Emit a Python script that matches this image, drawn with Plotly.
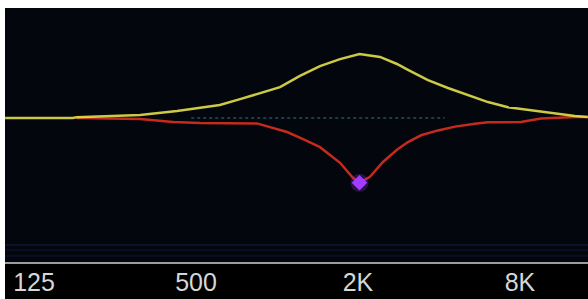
import plotly.graph_objects as go

# Boost (yellow) EQ curve
boost_freq = [97.6, 174, 180, 310, 425, 518, 613, 729, 865, 1026, 1217, 1445, 1715, 2026,
              2415, 2792, 3068, 3641, 4320, 5127, 6084, 7220, 8567, 10166, 12809, 14300]
boost_gain = [0.0, 0.0, 0.15, 0.55, 1.3, 1.85, 2.4, 3.5, 4.6, 5.7, 7.8, 9.6, 10.9, 11.85,
              11.3, 10.0, 8.9, 7.0, 5.55, 4.25, 2.95, 2.0, 1.5, 0.9, 0.35, 0.2]

# Cut (red) EQ curve
cut_freq = [180, 310, 411, 518, 842, 918, 1000, 1090, 1250, 1445, 1715, 1915, 2026,
            2216, 2477, 2792, 3068, 3430, 3966, 4588, 5444, 6084, 8068, 9574, 12809, 14300]
cut_gain = [0.0, -0.2, -0.75, -0.95, -1.0, -1.5, -2.0, -2.6, -3.9, -5.4, -8.3, -11.1, -12.0,
            -10.9, -8.15, -5.9, -4.45, -3.2, -2.3, -1.6, -1.05, -0.8, -0.75, -0.1, 0.2, 0.2]

# Selected band handle
handle_freq = [2026]
handle_gain = [-12.0]

# Zero reference line
zero_freq = [480, 4200]
zero_gain = [0.0, 0.0]

tick_vals = [125, 500, 2000, 8000]
tick_text = ["125", "500", "2K", "8K"]

fig = go.Figure()

fig.add_trace(go.Scatter(x=zero_freq, y=zero_gain, mode="lines",
                         line=dict(color="rgba(60,150,160,0.55)", width=1.5, dash="dot"),
                         hoverinfo="skip"))
fig.add_trace(go.Scatter(x=cut_freq, y=cut_gain, mode="lines",
                         line=dict(color="#c42a1e", width=2.5)))
fig.add_trace(go.Scatter(x=boost_freq, y=boost_gain, mode="lines",
                         line=dict(color="rgba(240,236,80,0.85)", width=2.5)))
fig.add_trace(go.Scatter(x=handle_freq, y=handle_gain, mode="markers",
                         marker=dict(symbol="circle", size=18, color="rgba(150,60,255,0.25)",
                                     line=dict(width=0))))
fig.add_trace(go.Scatter(x=handle_freq, y=handle_gain, mode="markers",
                         marker=dict(symbol="diamond", size=12, color="#a23cff",
                                     line=dict(width=0))))

shapes = [
    # black label strip
    dict(type="rect", xref="paper", yref="paper", x0=0, x1=1, y0=-37 / 254, y1=0,
         fillcolor="#000000", line=dict(width=0), layer="below"),
    # faint blue lines near bottom
    dict(type="line", xref="paper", yref="paper", x0=0, x1=1, y0=17 / 254, y1=17 / 254,
         line=dict(color="rgba(40,45,120,0.55)", width=1)),
    dict(type="line", xref="paper", yref="paper", x0=0, x1=1, y0=12 / 254, y1=12 / 254,
         line=dict(color="rgba(40,45,110,0.4)", width=1)),
    dict(type="line", xref="paper", yref="paper", x0=0, x1=1, y0=6 / 254, y1=6 / 254,
         line=dict(color="rgba(40,45,110,0.35)", width=1)),
    # gray baseline
    dict(type="line", xref="paper", yref="paper", x0=0, x1=1, y0=-1 / 254, y1=-1 / 254,
         line=dict(color="#9c9c9c", width=2)),
]

fig.update_layout(
    width=588, height=299,
    margin=dict(l=5, r=0, t=8, b=37),
    paper_bgcolor="#ffffff",
    plot_bgcolor="#03060d",
    showlegend=False,
    shapes=shapes,
    xaxis=dict(type="log", range=[1.989, 4.156], showgrid=False, zeroline=False,
               showline=False, ticks="", tickvals=tick_vals, ticktext=tick_text,
               tickfont=dict(family="Liberation Sans, Arial, sans-serif", size=25,
                             color="#d6d6d6"),
               ticklabelstandoff=3, fixedrange=True),
    yaxis=dict(range=[-26.67, 20.37], showgrid=False, zeroline=False, showline=False,
               showticklabels=False, ticks="", fixedrange=True),
)

fig.write_html("out.html", config={"displayModeBar": False},
               post_script="document.body.style.margin='0';document.body.style.overflow='hidden';")
